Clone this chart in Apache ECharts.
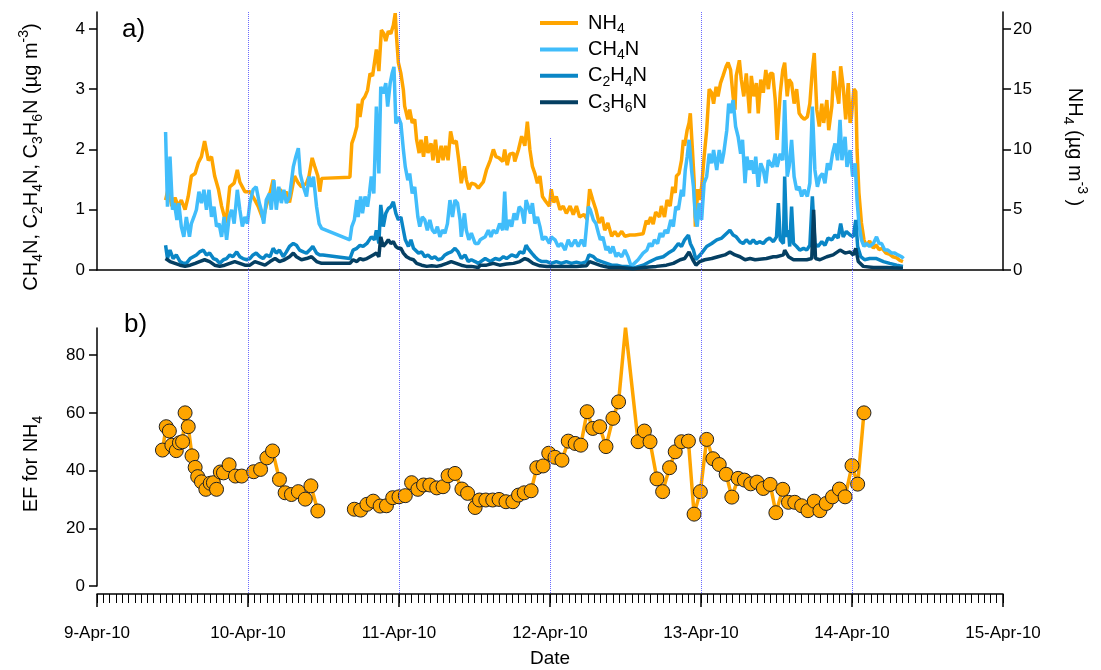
<!DOCTYPE html>
<html><head><meta charset="utf-8">
<script src="https://cdn.jsdelivr.net/npm/echarts@6/dist/echarts.min.js"></script>
<style>html,body{margin:0;padding:0;background:#fff}#c{width:1101px;height:670px}</style>
</head><body><div id="c"></div><script>
// x values: hours since 9-Apr-2010 00:00
const dayLabels = ['9-Apr-10','10-Apr-10','11-Apr-10','12-Apr-10','13-Apr-10','14-Apr-10','15-Apr-10'];
const dayLineHours = [24, 48, 72, 96, 120];
const topTicksLeft = [0, 1, 2, 3, 4];
const topTicksRight = [0, 5, 10, 15, 20];
const efTicks = [0, 20, 40, 60, 80];

// NH4 (ug m-3, right axis)
const nh4 = [[10.9,5.8],[11.3,6.7],[11.9,5.3],[12.4,6.0],[12.9,5.3],[13.4,5.8],[14.0,5.0],[14.5,6.1],[15.0,7.8],[15.6,8.0],[16.1,8.9],[16.6,9.4],[17.1,10.7],[17.7,9.1],[18.2,9.4],[18.7,7.8],[19.3,6.7],[19.8,5.3],[20.5,3.9],[21.1,6.9],[21.8,7.2],[22.3,8.3],[22.7,7.3],[23.5,6.5],[24.3,6.5],[25.1,5.8],[25.6,5.3],[26.4,4.2],[26.9,5.3],[27.5,6.4],[28.0,7.5],[28.5,5.8],[29.1,6.7],[29.6,6.1],[30.1,6.5],[30.6,5.6],[31.4,7.8],[32.0,7.2],[32.5,6.9],[33.3,7.2],[33.7,7.8],[34.2,9.3],[34.6,8.6],[35.1,7.8],[35.4,6.5],[35.7,7.6],
[40.2,7.7],[40.5,10.5],[40.9,11.1],[41.3,11.9],[41.5,13.8],[41.8,12.7],[42.2,14.1],[42.6,14.4],[43.0,14.9],[43.4,16.3],[43.8,16.1],[44.1,16.2],[44.4,18.3],[44.8,16.5],[45.2,19.9],[45.6,19.6],[45.9,19.0],[46.3,19.8],[46.7,19.6],[47.1,20.3],[47.4,21.3],[47.6,19.4],[47.9,17.2],[48.3,16.3],[48.7,14.9],[48.9,13.6],[49.4,12.5],[49.7,13.3],[50.1,12.2],[50.5,12.5],[50.8,10.8],[51.2,9.7],[51.5,10.8],[51.9,9.4],[52.3,11.1],[52.6,9.7],[53.1,10.5],[53.4,9.1],[53.8,10.8],[54.2,8.9],[54.7,10.3],[55.0,9.1],[55.4,10.3],[55.8,9.1],[56.2,11.5],[56.6,10.5],[57.1,10.7],[57.5,9.1],[57.9,7.2],[58.4,8.6],[58.7,7.5],[59.1,6.7],[59.5,7.2],[60.1,7.1],[60.6,6.8],[60.9,6.9],[61.4,7.3],[61.9,8.3],[62.5,9.1],[63.0,10.0],[63.4,9.4],[63.9,9.3],[64.5,9.0],[64.8,10.0],[65.2,8.7],[65.6,9.6],[66.2,9.7],[66.4,9.0],[67.0,10.0],[67.5,11.1],[68.0,10.3],[68.4,12.3],[68.8,10.0],[69.2,8.6],[69.6,8.0],[70.0,7.2],[70.4,7.8],[70.8,6.1],[71.3,5.7],[71.9,5.3],[72.2,6.7],[72.6,5.6],[73.0,6.1],[73.6,5.0],[74.1,5.3],[74.6,4.7],[75.2,5.3],[75.7,4.6],[76.2,5.3],[76.7,4.4],[77.4,4.6],[77.9,4.2],[78.3,6.7],[78.8,5.8],[79.3,5.0],[79.8,3.9],[80.3,4.4],[80.7,3.3],[81.2,3.9],[81.8,2.8],[82.3,3.2],[82.8,2.8],[83.4,3.2],[83.9,2.8],[84.7,2.9],[85.5,2.9],[85.8,2.8],[86.8,3.0],[87.3,4.1],[87.6,3.8],[88.0,4.4],[88.4,3.8],[88.8,4.8],[89.4,4.4],[89.7,5.3],[90.2,4.4],[90.6,5.8],[91.1,5.3],[91.5,6.9],[91.9,6.4],[92.1,7.8],[92.5,8.0],[92.9,9.1],[93.2,10.8],[93.4,10.3],[93.8,11.6],[94.1,12.2],[94.3,13.0],[94.6,10.3],[94.9,7.5],[95.1,3.6],[95.5,6.7],[95.8,5.8],[96.1,6.9],[96.5,9.4],[96.9,11.6],[97.3,15.0],[97.7,14.7],[98.0,13.8],[98.4,15.2],[98.7,14.4],[99.1,15.5],[99.5,16.1],[100.0,16.9],[100.3,17.2],[100.7,16.6],[101.1,14.4],[101.4,13.3],[101.6,16.1],[102.1,17.4],[102.4,15.8],[102.8,14.4],[103.2,16.3],[103.7,13.0],[104.0,16.1],[104.4,14.4],[104.8,15.5],[105.1,13.0],[105.5,15.8],[105.9,14.7],[106.3,16.6],[106.7,15.0],[107.0,16.3],[107.4,16.3],[107.8,14.1],[108.1,10.8],[108.6,14.7],[109.0,16.6],[109.3,17.2],[109.7,14.4],[110.0,15.8],[110.4,15.5],[110.8,13.8],[111.2,15.0],[111.6,13.0],[112.0,12.7],[112.4,12.5],[112.9,12.7],[113.3,13.8],[113.7,16.6],[114.0,18.0],[114.4,13.3],[114.8,11.9],[115.2,13.8],[115.5,12.2],[116.0,14.1],[116.3,11.6],[116.8,13.6],[117.1,16.5],[117.5,15.0],[117.9,13.8],[118.2,16.9],[118.6,15.2],[119.0,12.5],[119.4,15.5],[119.7,12.2],[119.9,12.7],[120.3,15.0],[120.6,14.8],[120.8,10.0],[121.1,6.4],[121.5,3.9],[121.9,2.5],[122.3,2.0],[122.8,2.4],[123.4,1.8],[123.8,2.1],[124.3,1.7],[124.8,1.8],[125.4,1.4],[126.0,1.3],[126.5,1.1],[127.1,1.0],[127.6,0.8],[128.1,0.7]];

// CH4N (ug m-3, left axis)
const ch4n = [[10.9,2.29],[11.2,1.05],[11.6,1.88],[12.0,1.0],[12.3,1.11],[12.7,0.83],[13.0,1.11],[13.4,0.72],[13.8,0.55],[14.2,0.88],[14.7,0.55],[15.0,0.77],[15.4,0.88],[15.8,1.0],[16.2,1.30],[16.6,1.11],[17.0,1.33],[17.4,1.0],[17.8,1.33],[18.2,0.88],[18.6,1.05],[19.0,0.72],[19.4,0.77],[19.8,0.55],[20.2,0.88],[20.6,0.50],[21.0,0.88],[21.4,1.0],[21.8,0.77],[22.3,1.33],[22.7,1.0],[23.1,0.72],[23.5,0.88],[23.9,0.77],[24.3,1.11],[24.8,1.33],[25.3,1.38],[25.8,1.11],[26.1,1.0],[26.5,0.77],[26.9,1.16],[27.4,1.27],[27.7,1.0],[28.1,1.49],[28.5,1.0],[28.9,1.38],[29.3,1.11],[29.7,1.33],[30.1,1.11],[30.6,1.22],[31.2,1.71],[31.6,1.88],[32.0,2.02],[32.3,1.60],[32.8,1.38],[33.3,1.22],[33.7,1.55],[34.1,1.38],[34.4,1.55],[34.9,1.05],[35.3,0.77],[35.7,0.69],
[40.2,0.50],[40.5,0.72],[40.9,0.83],[41.3,1.16],[41.5,0.88],[41.9,1.22],[42.2,0.94],[42.6,1.22],[43.0,1.05],[43.3,1.27],[43.6,1.55],[44.0,1.27],[44.4,2.71],[44.8,1.60],[45.1,3.04],[45.5,2.93],[45.9,3.10],[46.2,2.71],[46.6,3.10],[46.9,3.26],[47.2,3.37],[47.5,2.43],[47.9,2.54],[48.3,2.43],[48.7,1.99],[49.0,1.71],[49.4,1.49],[49.7,1.60],[50.1,1.27],[50.5,1.38],[51.0,0.88],[51.3,0.72],[51.7,0.88],[52.1,0.83],[52.5,0.66],[52.9,0.83],[53.3,0.66],[53.7,0.61],[54.1,0.72],[54.5,0.55],[54.9,0.66],[55.3,0.61],[55.7,0.77],[56.1,1.16],[56.5,0.88],[56.9,1.16],[57.3,1.11],[57.7,0.83],[57.9,0.55],[58.4,0.94],[58.7,0.66],[59.1,0.50],[59.5,0.61],[60.1,0.44],[60.6,0.44],[60.9,0.50],[61.7,0.55],[62.2,0.66],[62.6,0.55],[63.0,0.66],[63.5,0.61],[64.0,0.77],[64.5,0.66],[64.8,1.30],[65.1,0.66],[65.5,0.83],[65.9,0.72],[66.3,0.94],[66.7,0.83],[67.1,1.05],[67.5,1.00],[67.9,0.77],[68.2,1.16],[68.5,1.16],[68.9,0.94],[69.2,1.11],[69.6,0.77],[70.0,0.88],[70.4,0.72],[70.8,0.50],[71.3,0.55],[71.9,0.44],[72.2,0.55],[72.8,0.50],[73.3,0.39],[73.8,0.44],[74.4,0.33],[74.9,0.50],[75.4,0.39],[76.0,0.50],[76.5,0.39],[77.0,0.50],[77.5,0.39],[78.1,1.05],[78.4,1.00],[78.9,0.83],[79.3,0.77],[79.7,0.61],[80.0,0.50],[80.4,0.55],[80.9,0.33],[81.2,0.39],[81.6,0.28],[82.0,0.39],[82.5,0.22],[82.8,0.28],[83.4,0.22],[83.9,0.33],[84.4,0.22],[84.9,0.06],[85.2,0.03],[86.0,0.17],[86.8,0.28],[87.4,0.33],[87.8,0.44],[88.2,0.39],[88.6,0.50],[89.1,0.44],[89.5,0.61],[89.9,0.55],[90.3,0.66],[90.7,0.61],[91.2,0.83],[91.6,0.72],[92.0,1.05],[92.4,1.00],[92.9,1.33],[93.2,1.22],[93.5,1.66],[93.8,1.88],[94.1,2.16],[94.5,1.66],[94.8,1.38],[95.1,0.88],[95.4,0.72],[95.7,1.11],[96.1,0.83],[96.5,1.44],[96.9,1.55],[97.3,1.93],[97.7,1.77],[98.0,1.99],[98.5,1.66],[98.9,1.99],[99.3,1.77],[99.6,1.93],[100.1,2.32],[100.4,2.76],[100.7,2.60],[101.1,2.82],[101.5,2.38],[101.9,2.21],[102.3,1.93],[102.6,2.16],[103.0,1.44],[103.3,1.88],[103.7,1.66],[104.0,1.82],[104.4,1.60],[104.7,1.88],[105.1,1.38],[105.5,1.77],[105.9,1.66],[106.3,1.44],[106.7,1.82],[107.0,1.85],[107.4,1.71],[107.8,1.93],[108.1,1.71],[108.6,1.93],[109.0,1.82],[109.3,2.82],[109.7,1.55],[110.0,1.71],[110.4,2.16],[110.8,1.55],[111.2,1.33],[111.6,1.38],[112.0,1.22],[112.4,1.33],[112.9,1.22],[113.3,1.44],[113.7,2.71],[114.1,1.66],[114.5,1.38],[114.9,1.55],[115.3,1.60],[115.7,1.44],[116.1,1.77],[116.5,1.66],[116.9,1.93],[117.3,2.10],[117.7,1.82],[118.1,2.49],[118.4,1.82],[118.9,2.21],[119.2,1.71],[119.7,1.99],[120.1,1.55],[120.5,1.77],[120.8,1.16],[121.1,0.77],[121.5,0.50],[121.9,0.39],[122.3,0.44],[122.8,0.39],[123.4,0.44],[123.9,0.55],[124.3,0.44],[124.7,0.44],[125.2,0.33],[125.7,0.33],[126.3,0.28],[126.8,0.28],[127.3,0.25],[127.9,0.22],[128.2,0.19]];

// C2H4N (ug m-3, left axis)
const c2h4n = [[10.9,0.41],[11.2,0.19],[11.6,0.33],[12.1,0.19],[12.6,0.25],[13.2,0.14],[13.7,0.11],[14.2,0.11],[14.8,0.19],[15.3,0.22],[15.8,0.25],[16.3,0.30],[16.9,0.33],[17.4,0.25],[17.9,0.28],[18.5,0.19],[19.0,0.17],[19.5,0.11],[20.1,0.17],[20.6,0.19],[21.1,0.25],[21.6,0.22],[22.2,0.30],[22.7,0.22],[23.2,0.19],[23.8,0.17],[24.3,0.19],[24.8,0.25],[25.3,0.28],[25.9,0.22],[26.4,0.19],[26.9,0.25],[27.5,0.22],[28.0,0.36],[28.5,0.28],[29.0,0.33],[29.6,0.22],[30.1,0.30],[30.6,0.39],[31.2,0.44],[31.7,0.41],[32.2,0.33],[32.8,0.30],[33.3,0.28],[33.8,0.33],[34.3,0.39],[34.9,0.28],[35.4,0.25],[35.9,0.25],
[40.2,0.19],[40.7,0.33],[41.3,0.36],[41.8,0.41],[42.3,0.39],[42.9,0.44],[43.2,0.41],[43.6,0.55],[44.1,0.50],[44.4,0.66],[44.8,0.44],[45.1,1.08],[45.5,0.72],[45.9,0.94],[46.3,1.02],[46.7,1.05],[47.1,1.13],[47.5,0.94],[47.9,0.83],[48.3,0.88],[48.7,0.66],[49.0,0.50],[49.5,0.39],[49.9,0.50],[50.3,0.36],[50.6,0.39],[51.1,0.28],[51.6,0.30],[52.1,0.22],[52.6,0.25],[53.2,0.19],[53.7,0.22],[54.2,0.17],[54.8,0.19],[55.3,0.25],[55.8,0.28],[56.3,0.30],[56.9,0.36],[57.4,0.30],[57.9,0.19],[58.5,0.25],[59.0,0.14],[59.5,0.17],[60.1,0.14],[60.6,0.11],[60.9,0.11],[61.7,0.19],[62.5,0.14],[63.3,0.19],[64.0,0.17],[64.6,0.22],[65.1,0.19],[65.9,0.25],[66.7,0.22],[67.2,0.30],[67.8,0.28],[68.2,0.41],[68.5,0.36],[69.1,0.28],[69.6,0.22],[70.1,0.17],[70.7,0.14],[71.5,0.14],[72.2,0.11],[73.0,0.14],[73.8,0.11],[74.6,0.14],[75.4,0.11],[76.2,0.13],[77.0,0.11],[77.8,0.14],[78.2,0.25],[78.9,0.22],[79.4,0.17],[80.2,0.14],[81.0,0.11],[81.8,0.08],[82.6,0.08],[83.4,0.06],[84.2,0.06],[85.2,0.03],[86.8,0.08],[87.9,0.14],[88.9,0.19],[90.0,0.22],[90.8,0.28],[91.6,0.33],[92.4,0.44],[92.9,0.39],[93.4,0.50],[94.0,0.58],[94.3,0.44],[94.8,0.33],[95.2,0.17],[95.6,0.22],[96.1,0.28],[96.9,0.39],[97.7,0.44],[98.5,0.50],[99.3,0.53],[100.1,0.61],[100.6,0.66],[101.1,0.58],[101.6,0.55],[102.2,0.47],[102.7,0.44],[103.2,0.50],[103.8,0.44],[104.3,0.50],[104.8,0.44],[105.3,0.47],[105.9,0.44],[106.4,0.50],[106.9,0.53],[107.5,0.47],[108.0,0.55],[108.3,1.11],[108.6,0.50],[109.1,0.44],[109.3,1.55],[109.6,0.55],[109.9,0.66],[110.1,0.39],[110.4,1.05],[110.7,0.44],[111.2,0.39],[111.7,0.33],[112.3,0.36],[112.8,0.33],[113.3,0.41],[113.7,1.22],[114.1,0.44],[114.6,0.39],[115.2,0.47],[115.7,0.41],[116.2,0.53],[116.8,0.50],[117.3,0.58],[117.8,0.53],[118.2,0.77],[118.6,0.55],[119.1,0.64],[119.7,0.58],[120.2,0.55],[120.6,0.83],[120.9,0.39],[121.4,0.22],[122.0,0.17],[122.8,0.19],[123.9,0.19],[125.0,0.14],[126.0,0.11],[127.1,0.08],[128.1,0.06]];

// C3H6N (ug m-3, left axis)
const c3h6n = [[10.9,0.19],[11.6,0.14],[12.4,0.11],[13.2,0.08],[14.0,0.06],[14.8,0.08],[15.6,0.11],[16.3,0.14],[17.1,0.17],[17.9,0.14],[18.7,0.08],[19.5,0.06],[20.3,0.08],[21.1,0.11],[21.9,0.14],[22.7,0.11],[23.5,0.08],[24.3,0.08],[25.1,0.14],[25.9,0.11],[26.7,0.08],[27.5,0.14],[28.3,0.19],[29.0,0.14],[29.8,0.17],[30.6,0.22],[31.2,0.28],[31.7,0.22],[32.5,0.17],[33.3,0.19],[34.1,0.22],[34.9,0.14],[35.7,0.11],
[40.2,0.11],[40.7,0.17],[41.3,0.14],[41.8,0.19],[42.3,0.17],[42.9,0.19],[43.4,0.22],[43.9,0.25],[44.4,0.28],[44.8,0.22],[45.1,0.55],[45.5,0.39],[45.9,0.44],[46.3,0.50],[46.7,0.44],[47.1,0.47],[47.5,0.39],[47.9,0.36],[48.3,0.36],[48.7,0.28],[49.2,0.22],[49.7,0.19],[50.3,0.17],[50.8,0.11],[51.6,0.08],[52.4,0.06],[53.2,0.07],[54.0,0.06],[54.8,0.08],[55.6,0.11],[56.3,0.14],[57.1,0.11],[57.9,0.08],[58.7,0.06],[59.5,0.06],[60.6,0.04],[60.9,0.08],[61.9,0.08],[63.0,0.11],[64.0,0.08],[65.1,0.10],[66.2,0.11],[67.2,0.14],[68.0,0.19],[68.5,0.17],[69.3,0.11],[70.4,0.07],[71.5,0.06],[73.0,0.06],[74.6,0.06],[76.2,0.06],[77.8,0.07],[78.3,0.14],[79.1,0.11],[80.2,0.07],[81.5,0.04],[83.1,0.04],[85.2,0.02],[86.8,0.04],[88.9,0.06],[90.5,0.08],[91.6,0.11],[92.7,0.17],[93.4,0.19],[94.1,0.30],[94.7,0.17],[95.2,0.08],[95.8,0.14],[96.6,0.17],[97.7,0.19],[98.7,0.22],[99.8,0.25],[100.6,0.30],[101.4,0.25],[102.2,0.22],[103.0,0.17],[103.8,0.19],[104.6,0.17],[105.3,0.18],[106.4,0.19],[107.5,0.22],[108.0,0.22],[109.1,0.25],[109.3,0.33],[109.9,0.22],[110.7,0.17],[111.7,0.17],[112.8,0.17],[113.6,0.19],[113.9,1.00],[114.2,0.19],[114.9,0.17],[116.0,0.22],[117.0,0.25],[118.1,0.33],[118.9,0.28],[119.7,0.30],[120.2,0.25],[120.6,0.36],[121.0,0.14],[121.8,0.06],[123.4,0.04],[125.5,0.04],[128.1,0.03]];

// EF for NH4 (two measured segments, gap between them)
const efPart1 = [[10.4,47.1],[11.0,55.2],[11.5,53.7],[11.9,48.8],[12.6,46.9],[13.1,49.6],[13.6,50.0],[14.0,60.0],[14.5,55.2],[15.1,45.1],[15.6,41.1],[16.0,37.9],[16.6,36.1],[17.3,33.5],[18.0,35.6],[18.5,35.8],[19.0,33.5],[19.6,39.5],[20.1,39.2],[21.0,42.0],[22.0,38.1],[23.0,38.1],[24.9,39.6],[26.0,40.4],[27.0,44.4],[27.9,46.8],[29.0,36.9],[29.9,32.3],[30.9,31.7],[32.0,32.7],[33.1,30.1],[34.0,34.7],[35.1,26.0]];
const efPart2 = [[40.9,26.6],[41.9,26.3],[42.9,28.3],[43.9,29.4],[45.0,27.7],[46.0,27.8],[47.0,30.6],[48.0,30.9],[49.0,31.3],[50.0,35.8],[51.0,33.5],[51.9,35.0],[52.9,35.0],[54.0,34.0],[55.0,34.4],[55.8,38.2],[56.9,39.0],[58.0,33.6],[58.9,32.1],[60.1,27.2],[60.8,29.8],[61.8,29.8],[62.9,29.8],[63.9,30.0],[65.0,29.2],[66.1,29.2],[67.0,31.5],[67.9,32.3],[69.0,33.0],[69.9,41.0],[70.9,41.6],[71.8,46.0],[72.8,44.6],[73.9,43.6],[74.9,50.2],[76.0,49.4],[76.9,48.8],[77.9,60.4],[78.8,54.6],[79.9,55.2],[80.9,48.3],[82.0,58.1],[82.9,63.8],[84.0,89.5],[86.0,50.0],[87.0,53.7],[87.9,50.0],[89.0,37.1],[89.9,32.7],[91.0,41.0],[91.9,46.5],[92.9,50.0],[94.0,50.2],[94.9,24.9],[95.9,32.7],[96.9,50.8],[97.9,44.1],[98.9,42.1],[100.0,38.7],[100.9,30.8],[101.9,37.3],[102.9,36.7],[103.9,35.4],[104.9,36.0],[105.9,33.8],[107.0,35.2],[107.9,25.4],[109.0,33.5],[109.9,29.0],[110.9,29.0],[112.0,27.8],[113.0,26.1],[114.0,29.4],[114.9,26.1],[115.9,28.6],[116.9,30.9],[118.0,33.6],[118.9,30.9],[120.0,41.7],[120.9,35.3],[121.9,60.0]];

const FONT = 'Liberation Sans, Arial, Helvetica, sans-serif';
const TOP_LEFT_MAX = 4.28, TOP_RIGHT_MAX = 21.4, EF_MAX = 89.4;
const colors = {nh4:'#FFA500', ch4n:'#41BDFB', c2h4n:'#0A86C6', c3h6n:'#053F62'};
const dotStyle = {type:'dotted', color:'#6B6BFF', width:1};

const axisLineStyle = {color:'#000', width:1.5};
function mkRich(big, small, lh) {
  return {
    n:{fontSize:big, fontFamily:FONT, color:'#000', lineHeight:lh, verticalAlign:'middle'},
    s:{fontSize:small, fontFamily:FONT, color:'#000', lineHeight:small, verticalAlign:'bottom'},
    p:{fontSize:small, fontFamily:FONT, color:'#000', lineHeight:small, verticalAlign:'top'}
  };
}
const titleRich = mkRich(20, 14, 28);
const legendRich = mkRich(20, 14, 26);
const legendNames = {
  'NH4':'{n|NH}{s|4}', 'CH4N':'{n|CH}{s|4}{n|N}', 'C2H4N':'{n|C}{s|2}{n|H}{s|4}{n|N}', 'C3H6N':'{n|C}{s|3}{n|H}{s|6}{n|N}'
};
// vertical day lines span both panels (overlay grid, 0 = bottom axis, 1 = top of top panel)
const dayLineTop = {24:1, 48:1, 72:0.7835, 96:1, 120:1};

const chart = echarts.init(document.getElementById('c'), null, {renderer:'canvas'});
chart.setOption({
  animation:false,
  backgroundColor:'#fff',
  textStyle:{fontFamily:FONT},
  grid:[
    {left:97, width:906, top:12, height:258},
    {left:97, width:906, top:328, height:258},
    {left:97, width:906, top:12, height:582}
  ],
  legend:{
    data:['NH4','CH4N','C2H4N','C3H6N'],
    orient:'vertical', left:535, top:8, itemGap:3.4, itemWidth:38, itemHeight:4, icon:'rect',
    selectedMode:false,
    formatter: n => legendNames[n],
    textStyle:{rich:legendRich, padding:[0,0,0,5]}
  },
  xAxis:[
    {gridIndex:0, type:'value', min:0, max:144, interval:24, position:'bottom',
     axisLine:{show:true, onZero:false, lineStyle:axisLineStyle}, axisTick:{show:false}, axisLabel:{show:false}, splitLine:{show:false}},
    {gridIndex:1, type:'value', min:0, max:144, interval:24, offset:8, position:'bottom',
     axisLine:{show:true, onZero:false, lineStyle:axisLineStyle},
     axisTick:{show:true, length:13, lineStyle:{color:'#000', width:1.5}},
     axisLabel:{color:'#000', fontSize:17, margin:31, formatter: v => dayLabels[Math.round(v/24)]},
     splitLine:{show:false},
     name:'Date', nameLocation:'middle', nameGap:55, nameTextStyle:{color:'#000', fontSize:19}},
    {gridIndex:1, type:'value', min:0, max:144, interval:1, offset:8, position:'bottom',
     axisLine:{show:false, onZero:false}, axisLabel:{show:false}, splitLine:{show:false},
     axisTick:{show:true, inside:false, length:9, lineStyle:{color:'#000', width:1}}},
    {gridIndex:2, type:'value', min:0, max:144, show:false}
  ],
  yAxis:[
    {gridIndex:0, type:'value', min:0, max:TOP_LEFT_MAX,
     axisLine:{show:true, lineStyle:axisLineStyle},
     axisTick:{show:true, length:8, customValues:topTicksLeft, lineStyle:{color:'#000', width:1.5}},
     axisLabel:{color:'#000', fontSize:17, margin:12, customValues:topTicksLeft},
     splitLine:{show:false}},
    {gridIndex:0, type:'value', position:'right', min:0, max:TOP_RIGHT_MAX,
     axisLine:{show:true, lineStyle:axisLineStyle},
     axisTick:{show:true, length:8, customValues:topTicksRight, lineStyle:{color:'#000', width:1.5}},
     axisLabel:{color:'#000', fontSize:17, margin:10, customValues:topTicksRight},
     splitLine:{show:false}},
    {gridIndex:1, type:'value', min:0, max:EF_MAX,
     axisLine:{show:true, lineStyle:axisLineStyle},
     axisTick:{show:true, length:8, customValues:efTicks, lineStyle:{color:'#000', width:1.5}},
     axisLabel:{color:'#000', fontSize:17, margin:12, customValues:efTicks},
     splitLine:{show:false}},
    {gridIndex:2, type:'value', min:0, max:1, show:false}
  ],
  series:[
    {name:'dayLines', type:'line', xAxisIndex:3, yAxisIndex:3, data:[], z:1, silent:true,
     markLine:{silent:true, symbol:['none','none'], label:{show:false}, lineStyle:dotStyle, animation:false,
       data: dayLineHours.map(h => [{coord:[h, dayLineTop[h]]},{coord:[h,0]}])}},
    {name:'NH4', type:'line', xAxisIndex:0, yAxisIndex:1, data:nh4, showSymbol:false, symbol:'none',
     lineStyle:{color:colors.nh4, width:3.5}, itemStyle:{color:colors.nh4}, z:2},
    {name:'CH4N', type:'line', xAxisIndex:0, yAxisIndex:0, data:ch4n, showSymbol:false, symbol:'none',
     lineStyle:{color:colors.ch4n, width:3.5}, itemStyle:{color:colors.ch4n}, z:3},
    {name:'C2H4N', type:'line', xAxisIndex:0, yAxisIndex:0, data:c2h4n, showSymbol:false, symbol:'none',
     lineStyle:{color:colors.c2h4n, width:3.5}, itemStyle:{color:colors.c2h4n}, z:4},
    {name:'C3H6N', type:'line', xAxisIndex:0, yAxisIndex:0, data:c3h6n, showSymbol:false, symbol:'none',
     lineStyle:{color:colors.c3h6n, width:3.5}, itemStyle:{color:colors.c3h6n}, z:5},
    {name:'EF1', type:'line', xAxisIndex:1, yAxisIndex:2, data:efPart1, symbol:'circle', symbolSize:14, showSymbol:true,
     lineStyle:{color:colors.nh4, width:3.5}, itemStyle:{color:colors.nh4, borderColor:'#222', borderWidth:1}, z:3},
    {name:'EF2', type:'line', xAxisIndex:1, yAxisIndex:2, data:efPart2, symbol:'circle', symbolSize:14, showSymbol:true,
     lineStyle:{color:colors.nh4, width:3.5}, itemStyle:{color:colors.nh4, borderColor:'#222', borderWidth:1}, z:3}
  ],
  graphic:[
    {type:'text', left:122, top:17, style:{text:'a)', font:'26px '+FONT, fill:'#000'}},
    {type:'text', left:124, top:312, style:{text:'b)', font:'26px '+FONT, fill:'#000'}},
    {type:'text', x:31, y:157, rotation:Math.PI/2,
     style:{text:'{n|CH}{s|4}{n|N, C}{s|2}{n|H}{s|4}{n|N, C}{s|3}{n|H}{s|6}{n|N (µg m}{p|-3}{n|)}', rich:titleRich, align:'center', verticalAlign:'middle'}},
    {type:'text', x:31, y:464, rotation:Math.PI/2,
     style:{text:'{n|EF for NH}{s|4}', rich:titleRich, align:'center', verticalAlign:'middle'}},
    {type:'text', x:1075, y:147, rotation:-Math.PI/2,
     style:{text:'{n|NH}{s|4}{n| (µg m}{p|-3}{n| )}', rich:titleRich, align:'center', verticalAlign:'middle'}}
  ]
});
</script></body></html>
